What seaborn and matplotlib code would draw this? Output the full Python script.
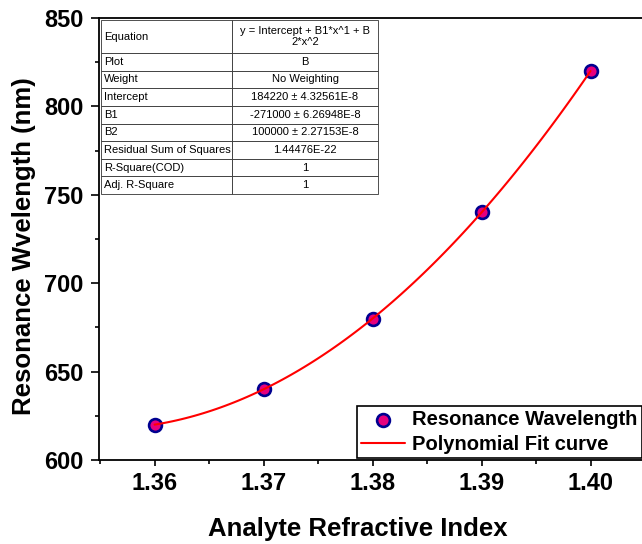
import numpy as np
import pandas as pd
import matplotlib
matplotlib.use("Agg")
import matplotlib.pyplot as plt
from matplotlib.ticker import MultipleLocator, FormatStrFormatter
import seaborn as sns

# ------------------------------------------------------
# Data
# ------------------------------------------------------
refractive_index = [1.36, 1.37, 1.38, 1.39, 1.40]
wavelength_nm = [620, 640, 680, 740, 820]

table_keys = ["Equation", "Plot", "Weight", "Intercept", "B1", "B2",
              "Residual Sum of Squares", "R-Square(COD)", "Adj. R-Square"]
table_vals = ["y = Intercept + B1*x^1 + B\n2*x^2", "B", "No Weighting",
              "184220 \u00b1 4.32561E-8", "-271000 \u00b1 6.26948E-8",
              "100000 \u00b1 2.27153E-8", "1.44476E-22", "1", "1"]

df = pd.DataFrame({"x": refractive_index, "y": wavelength_nm})

# ------------------------------------------------------
# Style
# ------------------------------------------------------
sns.set_style("ticks")
plt.rcParams["font.family"] = ["Liberation Sans", "DejaVu Sans"]
plt.rcParams["text.color"] = "black"
plt.rcParams["axes.labelcolor"] = "black"
plt.rcParams["xtick.color"] = "black"
plt.rcParams["ytick.color"] = "black"
plt.rcParams["axes.edgecolor"] = "black"

fig = plt.figure(figsize=(6.42, 5.44), dpi=100)
ax = fig.add_axes([0.1542, 0.1544, 0.8505, 0.8125])

# polynomial fit (order 2) computed by seaborn
sns.regplot(data=df, x="x", y="y", order=2, ci=None, scatter=False, ax=ax,
            label="Polynomial Fit curve",
            line_kws={"color": "red", "lw": 1.5, "zorder": 4})
sns.scatterplot(data=df, x="x", y="y", ax=ax, s=85, color="#E6007E",
                edgecolor="#000090", linewidth=1.9, zorder=3,
                label="Resonance Wavelength")

ax.set_xlim(1.3549, 1.4050)
ax.set_ylim(600, 850)
ax.xaxis.set_major_locator(MultipleLocator(0.01))
ax.xaxis.set_minor_locator(MultipleLocator(0.005))
ax.yaxis.set_major_locator(MultipleLocator(50))
ax.yaxis.set_minor_locator(MultipleLocator(25))
ax.xaxis.set_major_formatter(FormatStrFormatter("%.2f"))
ax.tick_params(which="major", direction="out", width=1.2, labelsize=17)
ax.tick_params(axis="x", which="major", length=4.5, pad=4)
ax.tick_params(axis="y", which="major", length=6, pad=5)
ax.tick_params(which="minor", direction="out", length=3, width=1.2)
for lab in ax.get_xticklabels() + ax.get_yticklabels():
    lab.set_fontweight("bold")
for s in ax.spines.values():
    s.set_linewidth(1.3)

ax.set_xlabel("Analyte Refractive Index", fontsize=18.5, fontweight="bold")
ax.xaxis.set_label_coords(0.474, -0.128)
ax.set_ylabel("Resonance Wvelength (nm)", fontsize=18.5, fontweight="bold")
ax.yaxis.set_label_coords(-0.115, 0.484)

# legend
handles, labels = ax.get_legend_handles_labels()
hl = dict(zip(labels, handles))
names = ["Resonance Wavelength", "Polynomial Fit curve"]
leg = ax.legend([hl[n] for n in names], names,
                loc="lower left", bbox_to_anchor=(0.4725, 0.004),
                prop={"weight": "bold", "size": 14.5}, frameon=True,
                fancybox=False, edgecolor="black", framealpha=1,
                handlelength=2.2, borderpad=0.2, labelspacing=0.3,
                handletextpad=0.35, borderaxespad=0)
leg.get_frame().set_linewidth(1.2)

# fit-parameter table
tab = ax.table(cellText=[[k, v] for k, v in zip(table_keys, table_vals)],
               colWidths=[0.473, 0.527],
               bbox=[0.0037, 0.6018, 0.5073, 0.3937], zorder=5)
tab.auto_set_font_size(False)
heights = [33] + [17.6] * (len(table_keys) - 1)
for (r, c), cell in tab.get_celld().items():
    cell.set_height(heights[r] / 442)
    cell.set_linewidth(0.6)
    cell.set_edgecolor("#333333")
    cell.get_text().set_fontsize(8)
    if c == 0:
        cell.get_text().set_ha("left")
        cell.PAD = 0.02
    else:
        cell.get_text().set_ha("center")
        cell.get_text().set_linespacing(1.05)

fig.savefig("out.png", dpi=100)
